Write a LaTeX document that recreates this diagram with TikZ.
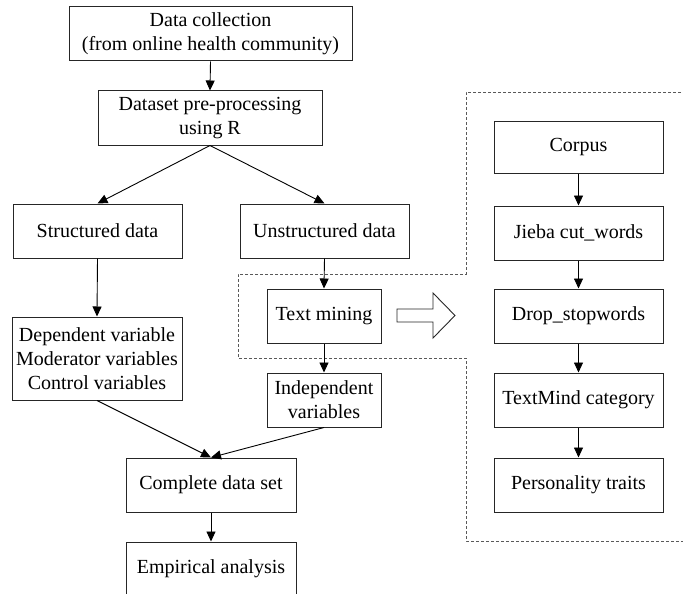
\documentclass[tikz,border=0pt]{standalone}
\usepackage{fontspec}
\setmainfont{Liberation Serif}
\usetikzlibrary{arrows.meta}
\begin{document}
\begin{tikzpicture}[x=1pt,y=-1pt,
  box/.style={draw=black!85, line width=1pt, fill=white, inner sep=0pt, align=center,
    font=\fontsize{20}{24}\selectfont},
  conn/.style={draw=black, line width=0.9pt, -{Triangle[length=10pt,width=9pt]}},
  dashline/.style={draw=black!65, line width=0.9pt, dash pattern=on 3pt off 2pt}]
\useasboundingbox (0,0) rectangle (683,594);
% dashed outline
\draw[dashline] (686,92) -- (466,92) -- (466,274) -- (238,274) -- (238,358) -- (466,358) -- (466,541) -- (686,541);
% left flow
\node[box, minimum width=283pt, minimum height=54pt] (dc) at (210.5,34) {Data collection\\(from online health community)};
\node[box, minimum width=224pt, minimum height=54pt] (dp) at (210,118) {Dataset pre-processing\\using R};
\node[box, minimum width=169pt, minimum height=54pt] (sd) at (97.5,231) {Structured data};
\node[box, minimum width=169pt, minimum height=54pt] (ud) at (324.5,231) {Unstructured data};
\node[box, minimum width=170pt, minimum height=83pt] (dv) at (97,358.5) {Dependent variable\\Moderator variables\\Control variables};
\node[box, minimum width=114pt, minimum height=54pt] (tm) at (324,316) {Text mining};
\node[box, minimum width=114pt, minimum height=54pt] (iv) at (324,400) {Independent\\variables};
\node[box, minimum width=170pt, minimum height=54pt] (cd) at (211,485) {Complete data set};
\node[box, minimum width=170pt, minimum height=54pt] (ea) at (211,569) {Empirical analysis};
% right flow
\node[box, minimum width=169pt, minimum height=52pt] (co) at (578.5,147) {Corpus};
\node[box, minimum width=169pt, minimum height=54pt] (jc) at (578.5,233) {Jieba cut\_words};
\node[box, minimum width=169pt, minimum height=54pt] (ds) at (578.5,316) {Drop\_stopwords};
\node[box, minimum width=169pt, minimum height=54pt] (tc) at (578.5,400) {TextMind category};
\node[box, minimum width=169pt, minimum height=54pt] (pt) at (578.5,485) {Personality traits};
% hollow arrow
\draw[draw=black!85, line width=0.9pt, fill=white] (397,309) -- (433,309) -- (433,293) -- (455,315.5) -- (433,338) -- (433,322) -- (397,322) -- cycle;
% connectors
\draw[conn] (dc.south) -- (dp.north);
\draw[conn] (dp.south) -- (sd.north);
\draw[conn] (dp.south) -- (ud.north);
\draw[conn] (sd.south) -- (dv.north);
\draw[conn] (ud.south) -- (tm.north);
\draw[conn] (tm.south) -- (iv.north);
\draw[conn] (dv.south) -- (cd.north);
\draw[conn] (iv.south) -- (cd.north);
\draw[conn] (cd.south) -- (ea.north);
\draw[conn] (co.south) -- (jc.north);
\draw[conn] (jc.south) -- (ds.north);
\draw[conn] (ds.south) -- (tc.north);
\draw[conn] (tc.south) -- (pt.north);
\end{tikzpicture}
\end{document}
